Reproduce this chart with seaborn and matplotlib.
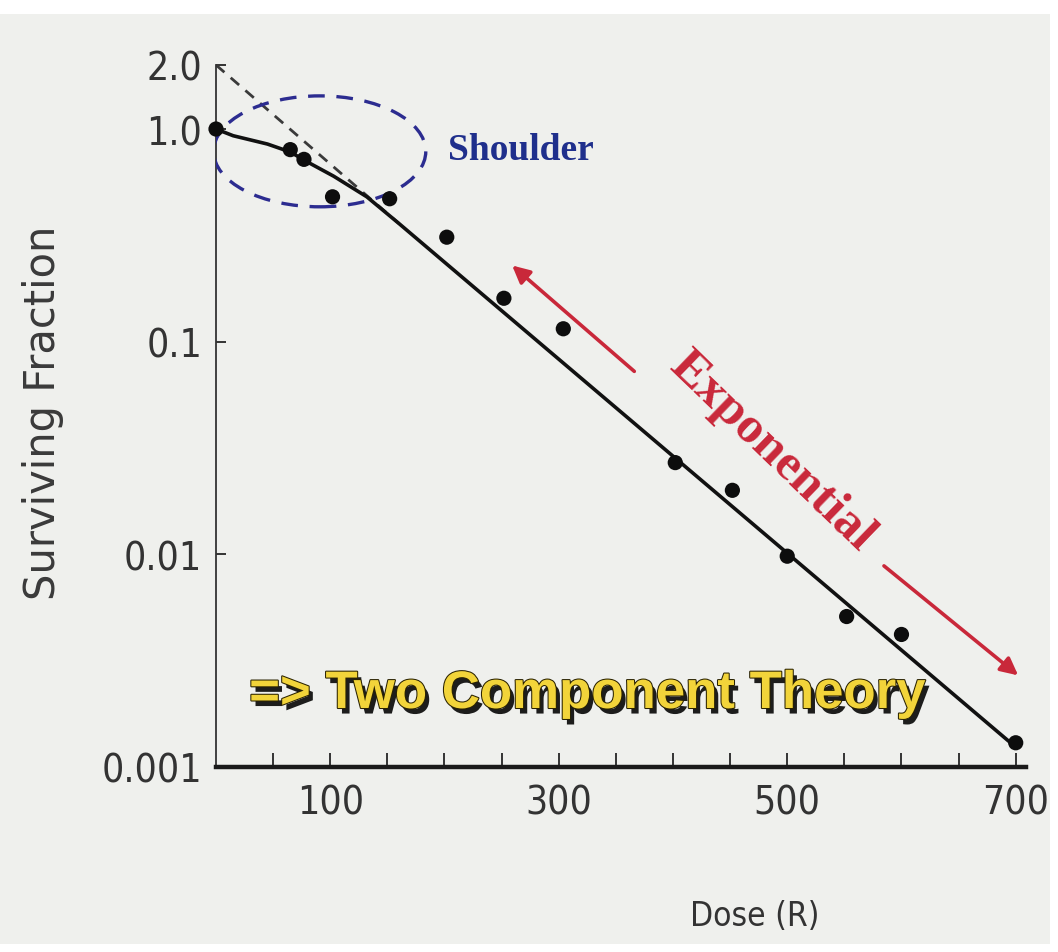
import matplotlib
matplotlib.use("Agg")
import matplotlib.pyplot as plt
import matplotlib.patheffects as pe
from matplotlib.patches import Ellipse, FancyArrowPatch, Rectangle
from matplotlib.ticker import FixedLocator, FixedFormatter, NullLocator
import seaborn as sns

# Measured surviving fraction of cells after X-ray doses (roentgen)
dose = [0, 65, 77, 102, 152, 202, 252, 304, 402, 452, 500, 552, 600, 700]
surviving = [1.0, 0.80, 0.72, 0.48, 0.47, 0.31, 0.16, 0.115, 0.027, 0.020,
             0.0098, 0.0051, 0.0042, 0.0013]

# Fitted survival curve: shoulder, then exponential decline
fit_dose = [0, 15, 45, 65, 80, 103, 132, 160, 700]
fit_surviving = [1.0, 0.93, 0.85, 0.78, 0.70, 0.60, 0.48, 0.36, 0.00124]

# Exponential portion extrapolated back to zero dose
extrap_dose = [0, 160]
extrap_surviving = [2.0, 0.36]

x_ticks = [50, 100, 150, 200, 250, 300, 350, 400, 450, 500, 550, 600, 650, 700]
x_tick_labels = ["", "100", "", "", "", "300", "", "", "", "500", "", "", "", "700"]
y_ticks = [0.001, 0.01, 0.1, 1.0, 2.0]
y_tick_labels = ["0.001", "0.01", "0.1", "1.0", "2.0"]

sns.set_theme(style="ticks")
plt.rcParams["font.family"] = ["DejaVu Sans"]

ink = "#333333"

fig = plt.figure(figsize=(10.58, 9.53), dpi=100)
fig.patch.set_facecolor("white")
fig.patches.append(Rectangle((0.0, 8 / 953), 1050 / 1058, (953 - 15 - 8) / 953,
                             transform=fig.transFigure, facecolor="#eff0ed",
                             edgecolor="none", zorder=-10))

ax = fig.add_axes([216 / 1058, 1 - 768 / 953, 810 / 1058, 702 / 953])
ax.set_facecolor("none")

sns.lineplot(x=extrap_dose, y=extrap_surviving, ax=ax, color="#3a3a3a",
             linewidth=2.0, linestyle=(0, (4, 3)), sort=False)
sns.lineplot(x=fit_dose, y=fit_surviving, ax=ax, color="#111111",
             linewidth=2.6, sort=False)
sns.scatterplot(x=dose, y=surviving, ax=ax, color="#0d0d0d", s=120,
                edgecolor="none", zorder=5, clip_on=False)

ax.set_yscale("log")
ax.set_xlim(0, 709)
ax.set_ylim(0.001, 2.0)

for side in ("top", "right"):
    ax.spines[side].set_visible(False)
ax.spines["bottom"].set_linewidth(3.2)
ax.spines["bottom"].set_color("#1a1a1a")
ax.spines["left"].set_linewidth(1.3)
ax.spines["left"].set_color("#333333")

ax.xaxis.set_major_locator(FixedLocator(x_ticks))
ax.xaxis.set_major_formatter(FixedFormatter(x_tick_labels))
ax.yaxis.set_major_locator(FixedLocator(y_ticks))
ax.yaxis.set_major_formatter(FixedFormatter(y_tick_labels))
ax.yaxis.set_minor_locator(NullLocator())
ax.xaxis.set_minor_locator(NullLocator())

ax.tick_params(axis="x", direction="in", length=10, width=1.4, color="#333333",
               pad=12, labelcolor=ink)
ax.tick_params(axis="y", direction="in", length=7, width=1.4, color="#333333",
               pad=10, labelcolor=ink)
for lab in ax.get_xticklabels() + ax.get_yticklabels():
    lab.set_fontfamily("DejaVu Sans")
    lab.set_fontstretch("condensed")
    lab.set_fontsize(28)

ax.set_xlabel("Dose (R)", fontsize=24, fontstretch="condensed", color=ink)
ax.xaxis.set_label_coords((755 - 216) / 810, (768 - 900) / 702)
ax.set_ylabel("Surviving Fraction", fontsize=30, color="#3a3a3a")
ax.yaxis.set_label_coords((64 - 216) / 810, (768 - 413) / 702)

# Shoulder region
ax.add_patch(Ellipse((0.128, 0.877), 0.262, 0.158, transform=ax.transAxes,
                     fill=False, edgecolor="#2c2c90", linewidth=2.4,
                     linestyle=(0, (5, 3.5)), zorder=4))
ax.text(0.377, 0.880, "Shoulder", transform=ax.transAxes, ha="center",
        va="center", fontsize=27, fontweight="bold", family="Liberation Serif",
        color="#1f2f8c")

# Exponential region
red = "#c9283a"
ax.add_patch(FancyArrowPatch((0.519, 0.561), (0.363, 0.717),
                             transform=ax.transAxes, arrowstyle="-|>",
                             mutation_scale=26, color=red, linewidth=2.6))
ax.add_patch(FancyArrowPatch((0.822, 0.289), (0.993, 0.128),
                             transform=ax.transAxes, arrowstyle="-|>",
                             mutation_scale=26, color=red, linewidth=2.6))
ax.text(0.686, 0.450, "Exponential", transform=ax.transAxes, ha="center",
        va="center", rotation=-44, rotation_mode="anchor", fontsize=37,
        fontweight="bold", family="Liberation Serif", color=red)

ax.text(0.458, 0.104, "=> Two Component Theory", transform=ax.transAxes,
        ha="center", va="center", fontsize=38, fontweight="bold",
        family="Liberation Sans", color="#f2d43a",
        path_effects=[pe.SimplePatchShadow(offset=(3, -4), shadow_rgbFace="#111111", alpha=0.95),
                      pe.Stroke(linewidth=1.5, foreground="#2a2200"),
                      pe.Normal()], zorder=6)

fig.savefig("out.png", dpi=100)
